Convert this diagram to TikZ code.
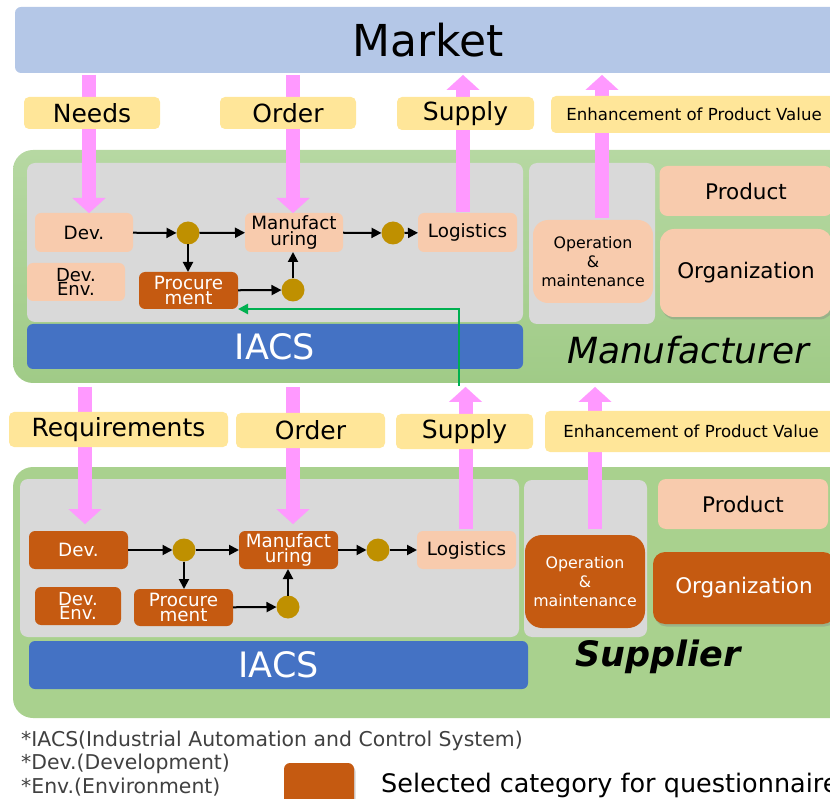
\documentclass[tikz,border=0pt]{standalone}
\usepackage{fontspec}
\setmainfont{DejaVu Sans}
\usetikzlibrary{arrows.meta,shadows,calc}

\definecolor{marketblue}{HTML}{B4C7E7}
\definecolor{tagyellow}{HTML}{FFE699}
\definecolor{flowpink}{HTML}{FF99FF}
\definecolor{zonegreen}{HTML}{A9D18E}
\definecolor{zonegreentop}{HTML}{B6D8A2}
\definecolor{zonegreenlow}{HTML}{A0CB87}
\definecolor{panelgray}{HTML}{D9D9D9}
\definecolor{peach}{HTML}{F8CBAD}
\definecolor{rust}{HTML}{C55A11}
\definecolor{gold}{HTML}{BF9000}
\definecolor{iacsblue}{HTML}{4472C4}
\definecolor{linkgreen}{HTML}{00B050}
\definecolor{notegray}{HTML}{404040}

\newcommand{\fsz}[2]{\fontsize{#1}{#2}\selectfont}

\tikzset{
  plate/.style={rectangle, rounded corners=#1, inner sep=0pt, outer sep=0pt, draw=none},
  sz/.style 2 args={minimum width=#1pt, minimum height=#2pt},
  zone/.style={plate=20pt},
  panel/.style={plate=8pt, fill=panelgray},
  peachbox/.style={plate=6pt, fill=peach, text=black, align=center},
  rustbox/.style={plate=6pt, fill=rust, text=white, align=center},
  tag/.style={plate=5pt, fill=tagyellow, text=black},
  dot/.style={circle, fill=gold, minimum size=23pt, inner sep=0pt, outer sep=0pt},
  flow/.style={draw=black, line width=2pt, -{Triangle[length=10pt,width=10pt]}},
  bigarrow/.style={draw=flowpink, line width=14pt,
    -{Triangle[length=15pt,width=33pt,line width=0.1pt]}},
  greenlink/.style={draw=linkgreen, line width=2.8pt,
    -{Triangle[length=10pt,width=10pt]}},
  softshadow/.style={drop shadow={shadow xshift=1.5pt, shadow yshift=-2.5pt, opacity=0.35}},
  boxfont/.style={font=\fsz{18.3}{15.5}},
  twoline/.style={font=\fsz{18}{14.5}},
  tagfont/.style={font=\fsz{25}{29}},
  valuefont/.style={font=\fsz{16.6}{20}},
  opfont/.style={font=\fsz{15.8}{19}},
  notefont/.style={font=\fsz{20.4}{23}},
}

\begin{document}
\begin{tikzpicture}[x=1pt, y=-1pt]
\useasboundingbox (0,0) rectangle (830,799);
\clip (0,0) rectangle (830,799);

% ---------- market ----------
\node[plate=6pt, fill=marketblue, sz={826}{66}, font=\fsz{44}{50}] (Market) at (428,40) {Market};

% ---------- zones ----------
\node[zone, top color=zonegreentop, bottom color=zonegreenlow, sz={837}{233}] (ZoneM) at (431.5,266.5) {};
\node[zone, fill=zonegreen, sz={837}{251}] (ZoneS) at (431.5,592.5) {};

% ---------- manufacturer ----------
\node[panel, sz={496}{159}] (PanelMa) at (275,242.5) {};
\node[panel, sz={126}{161}] (PanelMb) at (592,243.5) {};
\node[peachbox, rounded corners=8pt, sz={173}{50}, font=\fsz{21.5}{25}] (ProdM) at (746,191) {Product};
\node[peachbox, rounded corners=14pt, sz={172}{88}, softshadow, font=\fsz{21.5}{25}] (OrgM) at (746,273) {Organization};
\node[peachbox, rounded corners=15pt, sz={120}{83}, opfont] (OpM) at (593,261.5) {Operation\\\&\\maintenance};
\node[plate=6pt, fill=iacsblue, text=white, sz={496}{45}, font=\fsz{35}{40}] (IacsM) at (275,346.5) {IACS};
\node[font=\fsz{36}{40}\itshape] (LblM) at (688,350) {Manufacturer};

\node[peachbox, boxfont, sz={98}{39}] (DevM) at (84,232.5) {Dev.};
\node[peachbox, boxfont, sz={98}{39}] (ManM) at (294,232.5) {Manufact\\uring};
\node[peachbox, boxfont, sz={99}{39}] (LogM) at (467.5,232.5) {Logistics};
\node[peachbox, twoline, sz={98}{38}] (EnvM) at (76,282) {Dev.\\Env.};
\node[rustbox, boxfont, sz={99}{37}] (ProcM) at (188.5,290.5) {Procure\\ment};
\node[dot] (DotMa) at (188,233) {};
\node[dot] (DotMb) at (393,233) {};
\node[dot] (DotMc) at (293,290) {};

\draw[flow] (DevM) -- (DotMa);
\draw[flow] (DotMa) -- (ManM);
\draw[flow] (DotMa) -- (DotMa |- ProcM.north);
\draw[flow] (ProcM) -- (DotMc);
\draw[flow] (DotMc) -- (DotMc |- ManM.south);
\draw[flow] (ManM) -- (DotMb);
\draw[flow] (DotMb) -- (LogM);

% ---------- supplier ----------
\node[panel, sz={499}{158}] (PanelSa) at (269.5,558) {};
\node[panel, sz={123}{157}] (PanelSb) at (585.5,558.5) {};
\node[peachbox, rounded corners=8pt, sz={170}{50}, font=\fsz{21.5}{25}] (ProdS) at (743,504) {Product};
\node[rustbox, rounded corners=12pt, sz={182}{72}, softshadow, font=\fsz{21.5}{25}] (OrgS) at (744,588) {Organization};
\node[rustbox, rounded corners=17pt, sz={120}{93}, opfont] (OpS) at (585,581.5) {Operation\\\&\\maintenance};
\node[plate=6pt, fill=iacsblue, text=white, sz={499}{48}, font=\fsz{35}{40}] (IacsS) at (278.5,665) {IACS};
\node[font=\fsz{35}{40}\bfseries\itshape] (LblS) at (658,657) {Supplier};

\node[rustbox, boxfont, sz={99}{38}] (DevS) at (78.5,550) {Dev.};
\node[rustbox, boxfont, sz={99}{38}] (ManS) at (288.5,550) {Manufact\\uring};
\node[peachbox, boxfont, sz={99}{38}] (LogS) at (466.5,550) {Logistics};
\node[rustbox, twoline, sz={86}{38}] (EnvS) at (78,606) {Dev.\\Env.};
\node[rustbox, boxfont, sz={99}{37}] (ProcS) at (183.5,607.5) {Procure\\ment};
\node[dot] (DotSa) at (184,550) {};
\node[dot] (DotSb) at (378,550) {};
\node[dot] (DotSc) at (288,607) {};

\draw[flow] (DevS) -- (DotSa);
\draw[flow] (DotSa) -- (ManS);
\draw[flow] (DotSa) -- (DotSa |- ProcS.north);
\draw[flow] (ProcS) -- (DotSc);
\draw[flow] (DotSc) -- (DotSc |- ManS.south);
\draw[flow] (ManS) -- (DotSb);
\draw[flow] (DotSb) -- (LogS);

% ---------- supply feedback into procurement ----------
\coordinate (LinkFrom) at (459,386);
\draw[greenlink] (LinkFrom) |- (ProcM.south east);

% ---------- pink flows, market <-> manufacturer ----------
\coordinate (NeedsTop) at (89,75);
\coordinate (OrderTop) at (293,75);
\coordinate (SupplyBase) at (463,212);
\coordinate (ValueBase) at (602,218);
\draw[bigarrow] (NeedsTop) -- (NeedsTop |- DevM.north);
\draw[bigarrow] (OrderTop) -- (OrderTop |- ManM.north);
\draw[bigarrow, shorten >=2pt] (SupplyBase) -- (SupplyBase |- Market.south);
\draw[bigarrow, shorten >=2pt] (ValueBase) -- (ValueBase |- Market.south);

% ---------- pink flows, manufacturer <-> supplier ----------
\coordinate (ReqTop) at (85,387);
\coordinate (OrderSTop) at (293,387);
\coordinate (SupplySBase) at (465.5,529);
\coordinate (ValueSBase) at (595,529);
\draw[bigarrow, shorten >=7pt] (ReqTop) -- (ReqTop |- DevS.north);
\draw[bigarrow, shorten >=7pt] (OrderSTop) -- (OrderSTop |- ManS.north);
\draw[bigarrow, shorten >=4pt] (SupplySBase) -- (SupplySBase |- ZoneM.south);
\draw[bigarrow, shorten >=4pt] (ValueSBase) -- (ValueSBase |- ZoneM.south);

% ---------- tags ----------
\node[tag, sz={136}{32}, tagfont] (TagNeeds) at (92,113) {Needs};
\node[tag, sz={136}{32}, tagfont] (TagOrder) at (288,113) {Order};
\node[tag, sz={137}{33}, tagfont] (TagSupply) at (465.5,113.5) {Supply};
\node[tag, sz={286}{37}, valuefont] (TagValue) at (694,114.5) {Enhancement of Product Value};
\node[tag, sz={219}{35}, tagfont] (TagReq) at (118.5,429.5) {Requirements};
\node[tag, sz={149}{35}, tagfont] (TagOrderS) at (310.5,430.5) {Order};
\node[tag, sz={137}{35}, tagfont] (TagSupplyS) at (464.5,431.5) {Supply};
\node[tag, sz={292}{41}, valuefont] (TagValueS) at (691,431.5) {Enhancement of Product Value};

% ---------- notes and legend ----------
\node[anchor=west, inner sep=0pt, text=notegray, notefont] (NoteIacs) at (21,741) {*IACS(Industrial Automation and Control System)};
\node[anchor=west, inner sep=0pt, text=notegray, notefont] (NoteDev) at (21,764) {*Dev.(Development)};
\node[anchor=west, inner sep=0pt, text=notegray, notefont] (NoteEnv) at (21,787) {*Env.(Environment)};
\node[rustbox, sz={70}{50}, softshadow] (Legend) at (319,788) {};
\node[anchor=west, inner sep=0pt, font=\fsz{25.5}{29}] (LegendText) at (381,785) {Selected category for questionnaire};
\end{tikzpicture}
\end{document}
